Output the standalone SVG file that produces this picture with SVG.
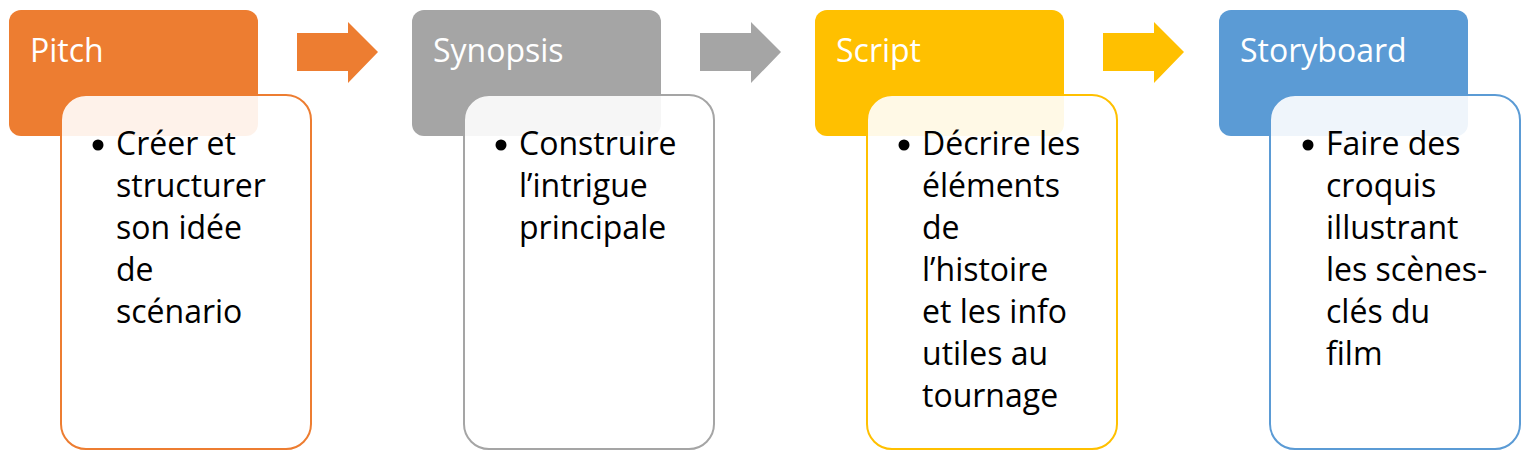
<svg xmlns="http://www.w3.org/2000/svg" width="1526" height="461" viewBox="0 0 1526 461">
<style>
.hdr{font-family:"Open Sans","Noto Sans",sans-serif;font-size:32px;fill:#ffffff}
.txt{font-family:"Open Sans","Noto Sans",sans-serif;font-size:32px;fill:#000000}
.body{fill:#ffffff;fill-opacity:0.9;stroke-width:2}
.bul{fill:#000000}
</style>
<rect width="1526" height="461" fill="#ffffff"/>
<g id="connectors">
<polygon points="297,33 348,33 348,22 378,52 348,83 348,71 297,71" fill="#ED7D31"/>
<polygon points="700,33 751,33 751,22 781,52 751,83 751,71 700,71" fill="#A5A5A5"/>
<polygon points="1103,33 1154,33 1154,22 1184,52 1154,83 1154,71 1103,71" fill="#FFC000"/>
</g>
<g id="pitch">
<rect x="9" y="10" width="249" height="126" rx="12" fill="#ED7D31"/>
<text class="hdr" x="30" y="62">Pitch</text>
<rect class="body" x="61" y="95" width="250" height="354" rx="25" stroke="#ED7D31"/>
<circle class="bul" cx="98" cy="145" r="5.5"/>
<text class="txt" x="116" y="155">Créer et</text>
<text class="txt" x="116" y="197">structurer</text>
<text class="txt" x="116" y="239">son idée</text>
<text class="txt" x="116" y="281">de</text>
<text class="txt" x="116" y="323">scénario</text>
</g>
<g id="synopsis">
<rect x="412" y="10" width="249" height="126" rx="12" fill="#A5A5A5"/>
<text class="hdr" x="433" y="62">Synopsis</text>
<rect class="body" x="464" y="95" width="250" height="354" rx="25" stroke="#A5A5A5"/>
<circle class="bul" cx="501" cy="145" r="5.5"/>
<text class="txt" x="519" y="155">Construire</text>
<text class="txt" x="519" y="197">l’intrigue</text>
<text class="txt" x="519" y="239">principale</text>
</g>
<g id="script">
<rect x="815" y="10" width="249" height="126" rx="12" fill="#FFC000"/>
<text class="hdr" x="836" y="62">Script</text>
<rect class="body" x="867" y="95" width="250" height="354" rx="25" stroke="#FFC000"/>
<circle class="bul" cx="904" cy="145" r="5.5"/>
<text class="txt" x="922" y="155">Décrire les</text>
<text class="txt" x="922" y="197">éléments</text>
<text class="txt" x="922" y="239">de</text>
<text class="txt" x="922" y="281">l’histoire</text>
<text class="txt" x="922" y="323">et les info</text>
<text class="txt" x="922" y="365">utiles au</text>
<text class="txt" x="922" y="407">tournage</text>
</g>
<g id="storyboard">
<rect x="1219" y="10" width="249" height="126" rx="12" fill="#5B9BD5"/>
<text class="hdr" x="1240" y="62">Storyboard</text>
<rect class="body" x="1270" y="95" width="250" height="354" rx="25" stroke="#5B9BD5"/>
<circle class="bul" cx="1308" cy="145" r="5.5"/>
<text class="txt" x="1326" y="155">Faire des</text>
<text class="txt" x="1326" y="197">croquis</text>
<text class="txt" x="1326" y="239">illustrant</text>
<text class="txt" x="1326" y="281">les scènes-</text>
<text class="txt" x="1326" y="323">clés du</text>
<text class="txt" x="1326" y="365">film</text>
</g>
</svg>
